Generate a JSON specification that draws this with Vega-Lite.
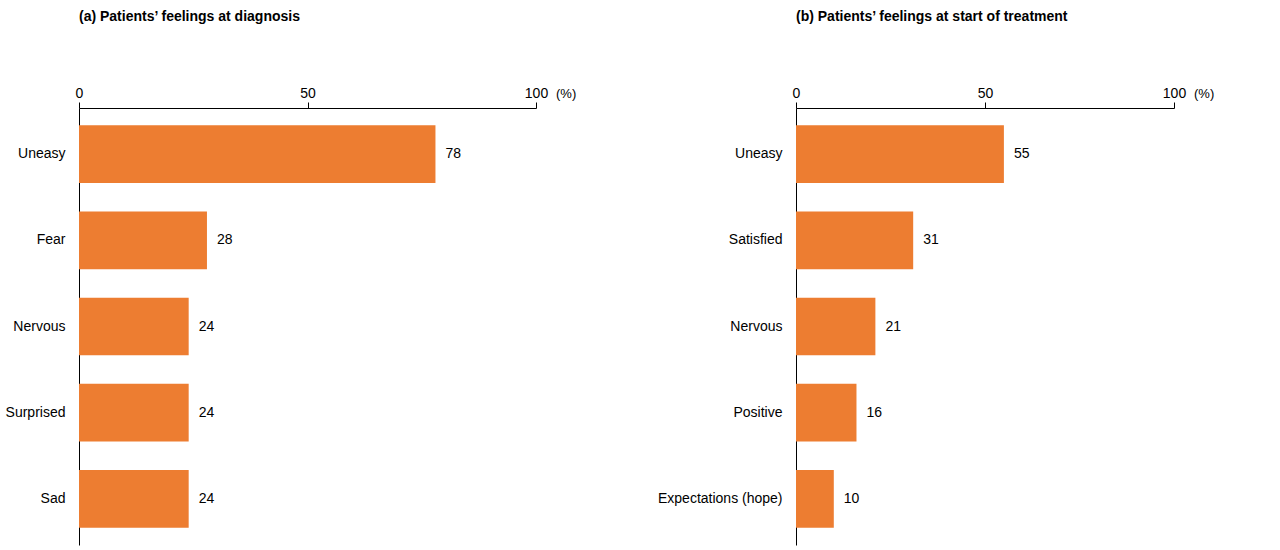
{
  "$schema": "https://vega.github.io/schema/vega-lite/v6.json",
  "background": "white",
  "padding": {"left": 5, "top": 10, "right": 5, "bottom": 3},
  "datasets": {
    "a": [
      {"feeling": "Uneasy", "pct": 78},
      {"feeling": "Fear", "pct": 28},
      {"feeling": "Nervous", "pct": 24},
      {"feeling": "Surprised", "pct": 24},
      {"feeling": "Sad", "pct": 24}
    ],
    "b": [
      {"feeling": "Uneasy", "pct": 55},
      {"feeling": "Satisfied", "pct": 31},
      {"feeling": "Nervous", "pct": 21},
      {"feeling": "Positive", "pct": 16},
      {"feeling": "Expectations (hope)", "pct": 10}
    ]
  },
  "spacing": 80,
  "hconcat": [
    {
      "width": 457,
      "height": 437,
      "data": {"name": "a"},
      "title": {"text": "(a)  Patients’ feelings at diagnosis", "anchor": "start", "frame": "group", "offset": 62},
      "encoding": {
        "y": {"field": "feeling", "type": "nominal", "sort": null, "title": null,
          "scale": {"paddingInner": 0.33, "paddingOuter": 0.2}},
        "x": {"field": "pct", "type": "quantitative", "scale": {"domain": [0, 100]}, "title": null,
          "axis": {"orient": "top", "values": [0, 50, 100]}}
      },
      "layer": [
        {"mark": {"type": "bar", "color": "#ED7D31"}},
        {"mark": {"type": "text", "align": "left", "dx": 10, "fontSize": 14, "font": "Arial"},
          "encoding": {"text": {"field": "pct"}}},
        {"data": {"values": [{"v": 100}]}, "mark": {"type": "text", "align": "left", "dx": 20, "dy": -14, "fontSize": 13, "font": "Arial"},
          "encoding": {"x": {"field": "v", "type": "quantitative"}, "y": {"value": 0}, "text": {"value": "(%)"}}}
      ]
    },
    {
      "width": 378,
      "height": 437,
      "data": {"name": "b"},
      "title": {"text": "(b)  Patients’ feelings at start of treatment", "anchor": "start", "frame": "group", "offset": 62},
      "encoding": {
        "y": {"field": "feeling", "type": "nominal", "sort": null, "title": null,
          "scale": {"paddingInner": 0.33, "paddingOuter": 0.2}},
        "x": {"field": "pct", "type": "quantitative", "scale": {"domain": [0, 100]}, "title": null,
          "axis": {"orient": "top", "values": [0, 50, 100]}}
      },
      "layer": [
        {"mark": {"type": "bar", "color": "#ED7D31"}},
        {"mark": {"type": "text", "align": "left", "dx": 10, "fontSize": 14, "font": "Arial"},
          "encoding": {"text": {"field": "pct"}}},
        {"data": {"values": [{"v": 100}]}, "mark": {"type": "text", "align": "left", "dx": 20, "dy": -14, "fontSize": 13, "font": "Arial"},
          "encoding": {"x": {"field": "v", "type": "quantitative"}, "y": {"value": 0}, "text": {"value": "(%)"}}}
      ]
    }
  ],
  "config": {
    "font": "Arial",
    "view": {"stroke": null},
    "title": {"fontSize": 14, "fontWeight": "bold", "font": "Arial", "color": "black"},
    "axis": {"grid": false, "domainColor": "black", "tickColor": "black", "labelColor": "black", "labelFontSize": 14, "labelFont": "Arial"},
    "axisX": {"tickSize": 6, "labelPadding": 2, "labelFlush": false},
    "axisY": {"ticks": false, "labelPadding": 14}
  }
}
